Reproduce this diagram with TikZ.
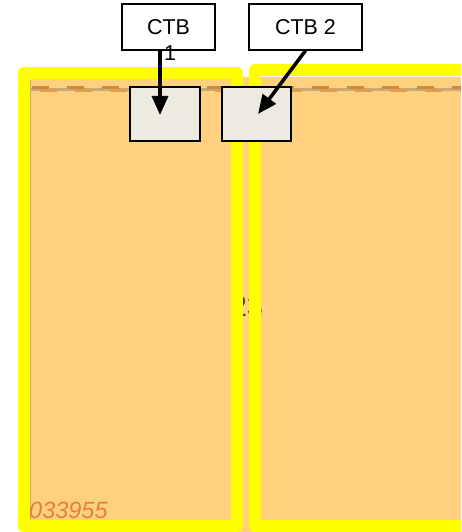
\documentclass[tikz,border=0pt]{standalone}
\usepackage{fontspec}
\setmainfont{Liberation Sans}
\usetikzlibrary{calc,arrows.meta,positioning}

\definecolor{maporange}{RGB}{255,209,127}
\definecolor{mapyellow}{RGB}{255,255,0}
\definecolor{boxgrey}{RGB}{237,235,224}
\definecolor{roadbrown}{RGB}{204,138,58}
\definecolor{roadgrey}{RGB}{200,170,120}
\definecolor{labelorange}{RGB}{230,128,55}

\tikzset{
  sheetframe/.style={draw=mapyellow,line width=12pt,line join=round},
  ctbbox/.style={draw=black,fill=boxgrey,line width=1.4pt,inner sep=0pt},
  calloutbox/.style={draw=black,fill=white,line width=1.2pt,inner sep=0pt,
    font=\fontsize{21.5}{25}\selectfont},
  callout/.style={line width=3.5pt,-{Triangle[length=19pt,width=16pt]}}
}

\begin{document}
\begin{tikzpicture}[x=1pt,y=-1pt]
  \useasboundingbox (0,0) rectangle (461,532);
  \clip (0,0) rectangle (461,532);
  % map background
  \fill[maporange] (24,77) rectangle (461,532);
  \draw[roadgrey,line width=2.5pt] (30,89.5) -- (461,89.5);
  \draw[roadbrown,line width=3.5pt,dash pattern=on 17pt off 18pt] (32,87.5) -- (461,87.5);
  \draw[roadbrown!70!maporange,line width=3pt,dash pattern=on 17pt off 18pt,dash phase=-8pt] (32,90.5) -- (461,90.5);
  \draw[roadgrey,line width=1.5pt] (30.5,80) -- (30.5,520);
  \node[text=black!75,font=\fontsize{29}{30}\selectfont] (sheetno) at (247,307) {23};
  \node[text=labelorange,font=\itshape\fontsize{23.5}{25}\selectfont,anchor=base west,inner sep=0pt] (coordA) at (29,518) {033955};
  % sheet frames
  \draw[sheetframe] (24,73) rectangle (237,526);
  \draw[sheetframe] (255,70) rectangle (480,526);
  % cable terminal boxes
  \node[ctbbox,minimum width=70pt,minimum height=54pt] (boxA) at (165,114) {};
  \node[ctbbox,minimum width=69pt,minimum height=54pt] (boxB) at (256.5,114) {};
  % callouts
  \node[calloutbox,minimum width=93pt,minimum height=46pt] (ctbA) at (168.5,27) {CTB};
  \node[font=\fontsize{21.5}{25}\selectfont,inner sep=0pt] (ctbAnum) at (170,53.5) {1};
  \node[calloutbox,minimum width=113pt,minimum height=46pt] (ctbB) at (305.5,27) {CTB 2};
  \coordinate (startA) at ($(ctbA.south)+(-8.5,0)$);
  \coordinate (endA) at ($(boxA.center)+(-5,1)$);
  \coordinate (endB) at ($(boxB.center)+(1.5,0)$);
  \draw[callout] (startA) -- (startA |- endA);
  \draw[callout] (ctbB.south) -- (endB);
\end{tikzpicture}
\end{document}
